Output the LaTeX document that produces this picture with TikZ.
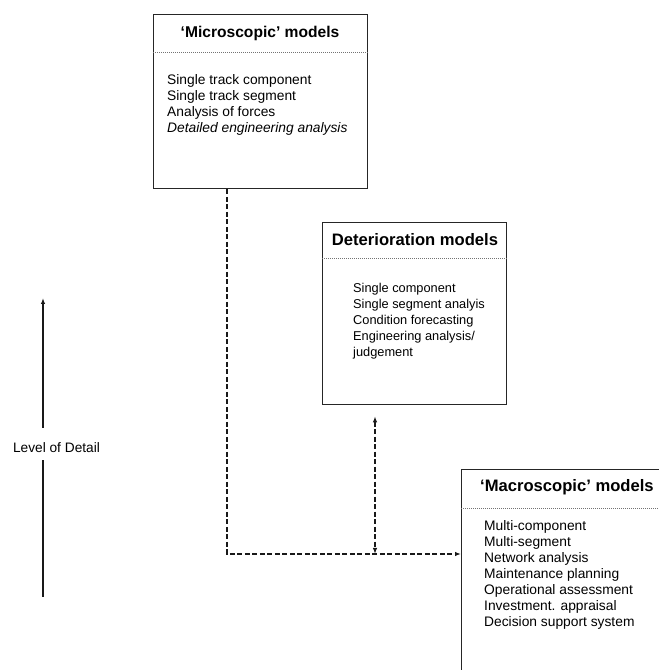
\documentclass[tikz,border=0pt]{standalone}
\usepackage{fontspec}
\setmainfont{Liberation Sans}
\usetikzlibrary{arrows.meta,calc}
\begin{document}
\begin{tikzpicture}[x=1pt,y=1pt,
  >={Latex[length=6pt,width=4.5pt]},
  modelbox/.style={draw=black!85, line width=1.3pt, inner sep=0pt, anchor=north west},
  heading/.style={font=\fontsize{16.6}{18}\selectfont\bfseries, inner sep=0pt},
  items/.style={font=\fontsize{13.8}{16}\selectfont, align=left, inner sep=0pt, anchor=north west},
  smallitems/.style={items, font=\fontsize{12.8}{16}\selectfont},
  sepline/.style={draw=black!55, line width=0.6pt, dash pattern=on 0.8pt off 1.2pt},
  link/.style={draw=black!90, line width=1.3pt, dash pattern=on 5pt off 2.5pt},
  axis/.style={draw=black!90, line width=1.4pt}]
\useasboundingbox (0,0) rectangle (659,670);
\clip (0,0) rectangle (659,670);

% the three model boxes
\node[modelbox, minimum width=214pt, minimum height=174pt] (micro) at (153,656) {};
\node[modelbox, minimum width=184pt, minimum height=182pt] (deter) at (322,448) {};
\node[modelbox, minimum width=240pt, minimum height=240pt] (macro) at (461,201) {};

% headings
\node[heading, font=\fontsize{15.6}{18}\selectfont\bfseries] (microtitle) at (260,637) {‘Microscopic’ models};
\node[heading] (detertitle) at (415,430) {Deterioration models};
\node[heading, anchor=west] (macrotitle) at (480,183) {‘Macroscopic’ models};

% dotted rules under the headings
\draw[sepline] ($(micro.north west)+(0,-38)$) -- ($(micro.north east)+(0,-38)$);
\draw[sepline] ($(deter.north west)+(0,-36)$) -- ($(deter.north east)+(0,-36)$);
\draw[sepline] ($(macro.north west)+(0,-39)$) -- ($(macro.north east)+(0,-39)$);

% contents
\node[items] (microlist) at ($(micro.north west)+(14,-60)$)
  {Single track component\\Single track segment\\Analysis of forces\\\textit{Detailed engineering analysis}};
\node[smallitems] (deterlist) at ($(deter.north west)+(31,-61)$)
  {Single component\\Single segment analyis\\Condition forecasting\\Engineering analysis/\\judgement};
\node[items] (macrolist) at ($(macro.north west)+(23,-51)$)
  {Multi-component\\Multi-segment\\Network analysis\\Maintenance planning\\Operational assessment\\Investment. appraisal\\Decision support system};

% dashed connectors
\coordinate (corner) at (227,116);
\coordinate (meet) at (375,116);
\draw[link, ->] (micro.south -| corner) -- (corner) -- (corner -| macro.west);
\draw[link, <->] ($(deter.south -| meet)+(0,-11)$) -- (meet);

% level of detail axis
\node[font=\fontsize{13.7}{16}\selectfont, inner sep=0pt] (lod) at (56.5,222.5) {Level of Detail};
\coordinate (lodbase) at (43,73);
\coordinate (lodtip) at (43,372);
\draw[axis] (lodbase) -- ($(lod.center -| lodbase)+(0,-12.5)$);
\draw[axis, ->] ($(lod.center -| lodbase)+(0,19.5)$) -- (lodtip);
\end{tikzpicture}
\end{document}
